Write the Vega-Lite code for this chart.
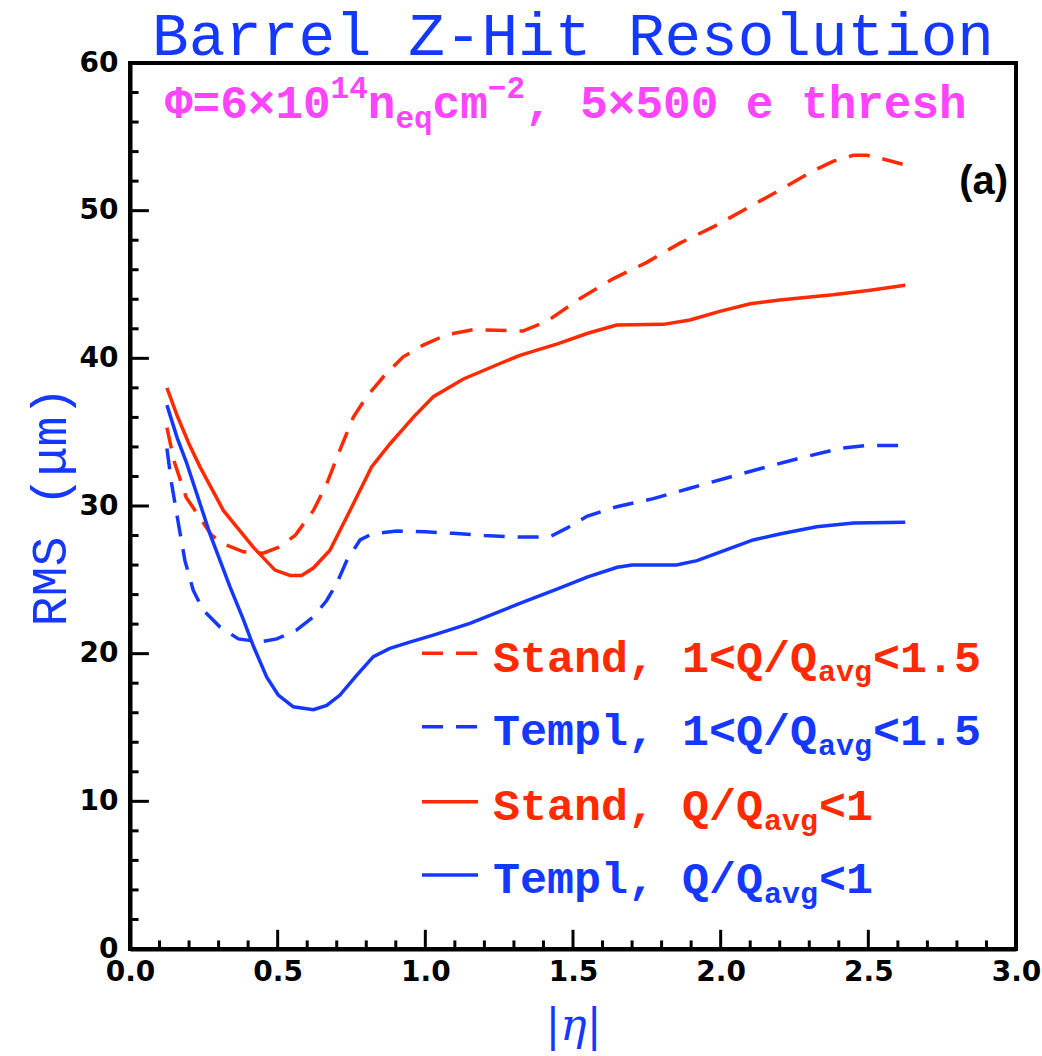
{
  "$schema": "https://vega.github.io/schema/vega-lite/v6.json",
  "width": 886,
  "height": 886,
  "autosize": "none",
  "padding": {"left": 130, "top": 63, "right": 26, "bottom": 107},
  "background": "white",
  "config": {
    "view": {"stroke": "black", "strokeWidth": 4},
    "axis": {"grid": false, "ticks": false, "domainColor": "black", "domainWidth": 4, "labelFont": "DejaVu Sans", "labelFontWeight": "bold", "labelFontSize": 28, "labelColor": "black", "labelFlush": false, "labelOverlap": false, "titleColor": "#1438ff", "titleFontWeight": "normal"}
  },
  "layer": [
    {
      "data": {"values": [
        {"s": "Stand 1-1.5", "eta": 0.125, "rms": 35.3},
        {"s": "Stand 1-1.5", "eta": 0.15, "rms": 33.0},
        {"s": "Stand 1-1.5", "eta": 0.19, "rms": 30.6},
        {"s": "Stand 1-1.5", "eta": 0.237, "rms": 29.2},
        {"s": "Stand 1-1.5", "eta": 0.277, "rms": 28.0},
        {"s": "Stand 1-1.5", "eta": 0.327, "rms": 27.35},
        {"s": "Stand 1-1.5", "eta": 0.384, "rms": 26.9},
        {"s": "Stand 1-1.5", "eta": 0.451, "rms": 26.8},
        {"s": "Stand 1-1.5", "eta": 0.502, "rms": 27.2},
        {"s": "Stand 1-1.5", "eta": 0.559, "rms": 28.0},
        {"s": "Stand 1-1.5", "eta": 0.621, "rms": 29.7},
        {"s": "Stand 1-1.5", "eta": 0.666, "rms": 31.5},
        {"s": "Stand 1-1.5", "eta": 0.711, "rms": 33.8},
        {"s": "Stand 1-1.5", "eta": 0.756, "rms": 36.0},
        {"s": "Stand 1-1.5", "eta": 0.801, "rms": 37.4},
        {"s": "Stand 1-1.5", "eta": 0.858, "rms": 38.75},
        {"s": "Stand 1-1.5", "eta": 0.925, "rms": 40.1},
        {"s": "Stand 1-1.5", "eta": 0.993, "rms": 40.9},
        {"s": "Stand 1-1.5", "eta": 1.072, "rms": 41.6},
        {"s": "Stand 1-1.5", "eta": 1.163, "rms": 41.95},
        {"s": "Stand 1-1.5", "eta": 1.24, "rms": 41.9},
        {"s": "Stand 1-1.5", "eta": 1.33, "rms": 41.85},
        {"s": "Stand 1-1.5", "eta": 1.411, "rms": 42.5},
        {"s": "Stand 1-1.5", "eta": 1.524, "rms": 44.05},
        {"s": "Stand 1-1.5", "eta": 1.637, "rms": 45.4},
        {"s": "Stand 1-1.5", "eta": 1.75, "rms": 46.5},
        {"s": "Stand 1-1.5", "eta": 1.862, "rms": 47.8},
        {"s": "Stand 1-1.5", "eta": 1.975, "rms": 48.9},
        {"s": "Stand 1-1.5", "eta": 2.088, "rms": 50.15},
        {"s": "Stand 1-1.5", "eta": 2.201, "rms": 51.4},
        {"s": "Stand 1-1.5", "eta": 2.314, "rms": 52.7},
        {"s": "Stand 1-1.5", "eta": 2.382, "rms": 53.35},
        {"s": "Stand 1-1.5", "eta": 2.449, "rms": 53.75},
        {"s": "Stand 1-1.5", "eta": 2.495, "rms": 53.75},
        {"s": "Stand 1-1.5", "eta": 2.55, "rms": 53.5},
        {"s": "Stand 1-1.5", "eta": 2.625, "rms": 53.1},
        {"s": "Templ 1-1.5", "eta": 0.125, "rms": 33.9},
        {"s": "Templ 1-1.5", "eta": 0.141, "rms": 31.5},
        {"s": "Templ 1-1.5", "eta": 0.164, "rms": 28.8},
        {"s": "Templ 1-1.5", "eta": 0.186, "rms": 26.3},
        {"s": "Templ 1-1.5", "eta": 0.214, "rms": 24.3},
        {"s": "Templ 1-1.5", "eta": 0.248, "rms": 22.95},
        {"s": "Templ 1-1.5", "eta": 0.305, "rms": 21.8},
        {"s": "Templ 1-1.5", "eta": 0.367, "rms": 21.0},
        {"s": "Templ 1-1.5", "eta": 0.44, "rms": 20.8},
        {"s": "Templ 1-1.5", "eta": 0.497, "rms": 21.0},
        {"s": "Templ 1-1.5", "eta": 0.564, "rms": 21.6},
        {"s": "Templ 1-1.5", "eta": 0.621, "rms": 22.5},
        {"s": "Templ 1-1.5", "eta": 0.666, "rms": 23.6},
        {"s": "Templ 1-1.5", "eta": 0.7, "rms": 24.75},
        {"s": "Templ 1-1.5", "eta": 0.734, "rms": 26.3},
        {"s": "Templ 1-1.5", "eta": 0.779, "rms": 27.7},
        {"s": "Templ 1-1.5", "eta": 0.818, "rms": 28.1},
        {"s": "Templ 1-1.5", "eta": 0.903, "rms": 28.3},
        {"s": "Templ 1-1.5", "eta": 1.0, "rms": 28.25},
        {"s": "Templ 1-1.5", "eta": 1.095, "rms": 28.15},
        {"s": "Templ 1-1.5", "eta": 1.2, "rms": 28.0},
        {"s": "Templ 1-1.5", "eta": 1.32, "rms": 27.9},
        {"s": "Templ 1-1.5", "eta": 1.42, "rms": 27.9},
        {"s": "Templ 1-1.5", "eta": 1.479, "rms": 28.5},
        {"s": "Templ 1-1.5", "eta": 1.547, "rms": 29.3},
        {"s": "Templ 1-1.5", "eta": 1.648, "rms": 29.95},
        {"s": "Templ 1-1.5", "eta": 1.772, "rms": 30.5},
        {"s": "Templ 1-1.5", "eta": 1.896, "rms": 31.2},
        {"s": "Templ 1-1.5", "eta": 2.02, "rms": 31.9},
        {"s": "Templ 1-1.5", "eta": 2.156, "rms": 32.65},
        {"s": "Templ 1-1.5", "eta": 2.28, "rms": 33.3},
        {"s": "Templ 1-1.5", "eta": 2.404, "rms": 33.9},
        {"s": "Templ 1-1.5", "eta": 2.495, "rms": 34.1},
        {"s": "Templ 1-1.5", "eta": 2.625, "rms": 34.1}
      ]},
      "mark": {"type": "line", "strokeWidth": 3.5, "strokeDash": [21, 13]},
      "encoding": {
        "x": {"field": "eta", "type": "quantitative", "scale": {"domain": [0, 3], "nice": false, "zero": false},
          "axis": {"title": "|η|", "titleFont": "DejaVu Serif", "titleFontStyle": "italic", "titleFontSize": 44, "titlePadding": 18,
            "values": [0, 0.5, 1, 1.5, 2, 2.5, 3], "format": ".1f", "labelPadding": 9}},
        "y": {"field": "rms", "type": "quantitative", "scale": {"domain": [0, 60], "nice": false, "zero": false},
          "axis": {"title": "RMS (μm)", "titleFont": "Liberation Mono", "titleFontSize": 50, "titlePadding": 4,
            "values": [0, 10, 20, 30, 40, 50, 60], "format": "d", "labelPadding": 12}},
        "color": {"field": "s", "type": "nominal", "scale": {"domain": ["Stand 1-1.5", "Stand <1", "Templ 1-1.5", "Templ <1"], "range": ["#ff2a00", "#ff2a00", "#1438ff", "#1438ff"]}, "legend": null}
      }
    },
    {
      "data": {"values": [
        {"s": "Stand <1", "eta": 0.125, "rms": 38.0},
        {"s": "Stand <1", "eta": 0.16, "rms": 36.1},
        {"s": "Stand <1", "eta": 0.2, "rms": 34.2},
        {"s": "Stand <1", "eta": 0.237, "rms": 32.65},
        {"s": "Stand <1", "eta": 0.316, "rms": 29.7},
        {"s": "Stand <1", "eta": 0.418, "rms": 27.2},
        {"s": "Stand <1", "eta": 0.491, "rms": 25.66},
        {"s": "Stand <1", "eta": 0.542, "rms": 25.3},
        {"s": "Stand <1", "eta": 0.581, "rms": 25.3},
        {"s": "Stand <1", "eta": 0.621, "rms": 25.8},
        {"s": "Stand <1", "eta": 0.677, "rms": 27.0},
        {"s": "Stand <1", "eta": 0.745, "rms": 29.7},
        {"s": "Stand <1", "eta": 0.818, "rms": 32.65},
        {"s": "Stand <1", "eta": 0.88, "rms": 34.2},
        {"s": "Stand <1", "eta": 0.959, "rms": 36.0},
        {"s": "Stand <1", "eta": 1.027, "rms": 37.4},
        {"s": "Stand <1", "eta": 1.129, "rms": 38.6},
        {"s": "Stand <1", "eta": 1.253, "rms": 39.65},
        {"s": "Stand <1", "eta": 1.32, "rms": 40.2},
        {"s": "Stand <1", "eta": 1.45, "rms": 41.0},
        {"s": "Stand <1", "eta": 1.55, "rms": 41.7},
        {"s": "Stand <1", "eta": 1.648, "rms": 42.25},
        {"s": "Stand <1", "eta": 1.806, "rms": 42.3},
        {"s": "Stand <1", "eta": 1.896, "rms": 42.6},
        {"s": "Stand <1", "eta": 2.0, "rms": 43.2},
        {"s": "Stand <1", "eta": 2.1, "rms": 43.7},
        {"s": "Stand <1", "eta": 2.2, "rms": 43.95},
        {"s": "Stand <1", "eta": 2.38, "rms": 44.3},
        {"s": "Stand <1", "eta": 2.5, "rms": 44.6},
        {"s": "Stand <1", "eta": 2.625, "rms": 44.95},
        {"s": "Templ <1", "eta": 0.125, "rms": 36.83},
        {"s": "Templ <1", "eta": 0.16, "rms": 34.6},
        {"s": "Templ <1", "eta": 0.192, "rms": 32.9},
        {"s": "Templ <1", "eta": 0.271, "rms": 28.1},
        {"s": "Templ <1", "eta": 0.339, "rms": 24.5},
        {"s": "Templ <1", "eta": 0.384, "rms": 22.3},
        {"s": "Templ <1", "eta": 0.418, "rms": 20.5},
        {"s": "Templ <1", "eta": 0.463, "rms": 18.4},
        {"s": "Templ <1", "eta": 0.502, "rms": 17.2},
        {"s": "Templ <1", "eta": 0.553, "rms": 16.4},
        {"s": "Templ <1", "eta": 0.621, "rms": 16.2},
        {"s": "Templ <1", "eta": 0.666, "rms": 16.5},
        {"s": "Templ <1", "eta": 0.711, "rms": 17.2},
        {"s": "Templ <1", "eta": 0.768, "rms": 18.55},
        {"s": "Templ <1", "eta": 0.824, "rms": 19.8},
        {"s": "Templ <1", "eta": 0.88, "rms": 20.36},
        {"s": "Templ <1", "eta": 0.95, "rms": 20.8},
        {"s": "Templ <1", "eta": 1.027, "rms": 21.26},
        {"s": "Templ <1", "eta": 1.151, "rms": 22.05},
        {"s": "Templ <1", "eta": 1.32, "rms": 23.4},
        {"s": "Templ <1", "eta": 1.45, "rms": 24.4},
        {"s": "Templ <1", "eta": 1.55, "rms": 25.2},
        {"s": "Templ <1", "eta": 1.65, "rms": 25.85},
        {"s": "Templ <1", "eta": 1.7, "rms": 26.0},
        {"s": "Templ <1", "eta": 1.85, "rms": 26.0},
        {"s": "Templ <1", "eta": 1.92, "rms": 26.3},
        {"s": "Templ <1", "eta": 2.0, "rms": 26.9},
        {"s": "Templ <1", "eta": 2.11, "rms": 27.7},
        {"s": "Templ <1", "eta": 2.2, "rms": 28.1},
        {"s": "Templ <1", "eta": 2.325, "rms": 28.6},
        {"s": "Templ <1", "eta": 2.45, "rms": 28.85},
        {"s": "Templ <1", "eta": 2.625, "rms": 28.9}
      ]},
      "mark": {"type": "line", "strokeWidth": 3.5},
      "encoding": {
        "x": {"field": "eta", "type": "quantitative"},
        "y": {"field": "rms", "type": "quantitative"},
        "color": {"field": "s", "type": "nominal", "legend": null}
      }
    },
    {"data": {"values": [{"v": 0.5}, {"v": 1}, {"v": 1.5}, {"v": 2}, {"v": 2.5}]},
     "mark": {"type": "rule", "color": "black", "strokeWidth": 3},
     "encoding": {"x": {"field": "v", "type": "quantitative"}, "y": {"datum": 0.05, "type": "quantitative"}, "y2": {"datum": 1.3}}},
    {"data": {"values": [{"v": 0.1}, {"v": 0.2}, {"v": 0.3}, {"v": 0.4}, {"v": 0.6}, {"v": 0.7}, {"v": 0.8}, {"v": 0.9}, {"v": 1.1}, {"v": 1.2}, {"v": 1.3}, {"v": 1.4}, {"v": 1.6}, {"v": 1.7}, {"v": 1.8}, {"v": 1.9}, {"v": 2.1}, {"v": 2.2}, {"v": 2.3}, {"v": 2.4}, {"v": 2.6}, {"v": 2.7}, {"v": 2.8}, {"v": 2.9}]},
     "mark": {"type": "rule", "color": "black", "strokeWidth": 3},
     "encoding": {"x": {"field": "v", "type": "quantitative"}, "y": {"datum": 0.05, "type": "quantitative"}, "y2": {"datum": 0.58}}},
    {"data": {"values": [{"v": 10}, {"v": 20}, {"v": 30}, {"v": 40}, {"v": 50}]},
     "mark": {"type": "rule", "color": "black", "strokeWidth": 3},
     "encoding": {"y": {"field": "v", "type": "quantitative"}, "x": {"datum": 0.002, "type": "quantitative"}, "x2": {"datum": 0.064}}},
    {"data": {"values": [{"v": 2}, {"v": 4}, {"v": 6}, {"v": 8}, {"v": 12}, {"v": 14}, {"v": 16}, {"v": 18}, {"v": 22}, {"v": 24}, {"v": 26}, {"v": 28}, {"v": 32}, {"v": 34}, {"v": 36}, {"v": 38}, {"v": 42}, {"v": 44}, {"v": 46}, {"v": 48}, {"v": 52}, {"v": 54}, {"v": 56}, {"v": 58}]},
     "mark": {"type": "rule", "color": "black", "strokeWidth": 3},
     "encoding": {"y": {"field": "v", "type": "quantitative"}, "x": {"datum": 0.002, "type": "quantitative"}, "x2": {"datum": 0.029}}},
    {"data": {"values": [{"t": "Barrel Z-Hit Resolution"}]}, "mark": {"type": "text", "align": "center", "baseline": "alphabetic", "font": "Liberation Mono", "fontWeight": "normal", "fontSize": 61, "color": "#1438ff"},
     "encoding": {"text": {"field": "t"}, "x": {"datum": 1.5, "type": "quantitative"}, "y": {"datum": 60.54, "type": "quantitative"}}},
    {"data": {"values": [{}]}, "mark": {"type": "rule", "color": "#ff2a00", "strokeWidth": 3.5, "strokeDash": [21, 13]},
     "encoding": {"x": {"datum": 0.9887, "type": "quantitative"}, "x2": {"datum": 1.1783}, "y": {"datum": 20.02, "type": "quantitative"}}},
    {"data": {"values": [{}]}, "mark": {"type": "rule", "color": "#1438ff", "strokeWidth": 3.5, "strokeDash": [21, 13]},
     "encoding": {"x": {"datum": 0.9887, "type": "quantitative"}, "x2": {"datum": 1.1783}, "y": {"datum": 15.05, "type": "quantitative"}}},
    {"data": {"values": [{}]}, "mark": {"type": "rule", "color": "#ff2a00", "strokeWidth": 3.5},
     "encoding": {"x": {"datum": 0.9887, "type": "quantitative"}, "x2": {"datum": 1.1783}, "y": {"datum": 9.975, "type": "quantitative"}}},
    {"data": {"values": [{}]}, "mark": {"type": "rule", "color": "#1438ff", "strokeWidth": 3.5},
     "encoding": {"x": {"datum": 0.9887, "type": "quantitative"}, "x2": {"datum": 1.1783}, "y": {"datum": 5.01, "type": "quantitative"}}},
    {"data": {"values": [{"t": "Stand, 1<Q/Q"}]}, "mark": {"type": "text", "align": "left", "baseline": "alphabetic", "font": "Liberation Mono", "fontWeight": "bold", "fontSize": 45, "color": "#ff2a00"},
     "encoding": {"text": {"field": "t"}, "x": {"datum": 1.2291, "type": "quantitative"}, "y": {"datum": 18.77, "type": "quantitative"}}},
    {"data": {"values": [{"t": "avg"}]}, "mark": {"type": "text", "align": "left", "baseline": "alphabetic", "font": "Liberation Mono", "fontWeight": "bold", "fontSize": 30, "color": "#ff2a00"},
     "encoding": {"text": {"field": "t"}, "x": {"datum": 2.3296, "type": "quantitative"}, "y": {"datum": 18.13, "type": "quantitative"}}},
    {"data": {"values": [{"t": "<1.5"}]}, "mark": {"type": "text", "align": "left", "baseline": "alphabetic", "font": "Liberation Mono", "fontWeight": "bold", "fontSize": 45, "color": "#ff2a00"},
     "encoding": {"text": {"field": "t"}, "x": {"datum": 2.5158, "type": "quantitative"}, "y": {"datum": 18.77, "type": "quantitative"}}},
    {"data": {"values": [{"t": "Templ, 1<Q/Q"}]}, "mark": {"type": "text", "align": "left", "baseline": "alphabetic", "font": "Liberation Mono", "fontWeight": "bold", "fontSize": 45, "color": "#1438ff"},
     "encoding": {"text": {"field": "t"}, "x": {"datum": 1.2291, "type": "quantitative"}, "y": {"datum": 13.8, "type": "quantitative"}}},
    {"data": {"values": [{"t": "avg"}]}, "mark": {"type": "text", "align": "left", "baseline": "alphabetic", "font": "Liberation Mono", "fontWeight": "bold", "fontSize": 30, "color": "#1438ff"},
     "encoding": {"text": {"field": "t"}, "x": {"datum": 2.3296, "type": "quantitative"}, "y": {"datum": 13.16, "type": "quantitative"}}},
    {"data": {"values": [{"t": "<1.5"}]}, "mark": {"type": "text", "align": "left", "baseline": "alphabetic", "font": "Liberation Mono", "fontWeight": "bold", "fontSize": 45, "color": "#1438ff"},
     "encoding": {"text": {"field": "t"}, "x": {"datum": 2.5158, "type": "quantitative"}, "y": {"datum": 13.8, "type": "quantitative"}}},
    {"data": {"values": [{"t": "Stand, Q/Q"}]}, "mark": {"type": "text", "align": "left", "baseline": "alphabetic", "font": "Liberation Mono", "fontWeight": "bold", "fontSize": 45, "color": "#ff2a00"},
     "encoding": {"text": {"field": "t"}, "x": {"datum": 1.2291, "type": "quantitative"}, "y": {"datum": 8.72, "type": "quantitative"}}},
    {"data": {"values": [{"t": "avg"}]}, "mark": {"type": "text", "align": "left", "baseline": "alphabetic", "font": "Liberation Mono", "fontWeight": "bold", "fontSize": 30, "color": "#ff2a00"},
     "encoding": {"text": {"field": "t"}, "x": {"datum": 2.1468, "type": "quantitative"}, "y": {"datum": 8.08, "type": "quantitative"}}},
    {"data": {"values": [{"t": "<1"}]}, "mark": {"type": "text", "align": "left", "baseline": "alphabetic", "font": "Liberation Mono", "fontWeight": "bold", "fontSize": 45, "color": "#ff2a00"},
     "encoding": {"text": {"field": "t"}, "x": {"datum": 2.333, "type": "quantitative"}, "y": {"datum": 8.72, "type": "quantitative"}}},
    {"data": {"values": [{"t": "Templ, Q/Q"}]}, "mark": {"type": "text", "align": "left", "baseline": "alphabetic", "font": "Liberation Mono", "fontWeight": "bold", "fontSize": 45, "color": "#1438ff"},
     "encoding": {"text": {"field": "t"}, "x": {"datum": 1.2291, "type": "quantitative"}, "y": {"datum": 3.76, "type": "quantitative"}}},
    {"data": {"values": [{"t": "avg"}]}, "mark": {"type": "text", "align": "left", "baseline": "alphabetic", "font": "Liberation Mono", "fontWeight": "bold", "fontSize": 30, "color": "#1438ff"},
     "encoding": {"text": {"field": "t"}, "x": {"datum": 2.1468, "type": "quantitative"}, "y": {"datum": 3.12, "type": "quantitative"}}},
    {"data": {"values": [{"t": "<1"}]}, "mark": {"type": "text", "align": "left", "baseline": "alphabetic", "font": "Liberation Mono", "fontWeight": "bold", "fontSize": 45, "color": "#1438ff"},
     "encoding": {"text": {"field": "t"}, "x": {"datum": 2.333, "type": "quantitative"}, "y": {"datum": 3.76, "type": "quantitative"}}},
    {"data": {"values": [{"t": "Φ=6×10"}]}, "mark": {"type": "text", "align": "left", "baseline": "alphabetic", "font": "Liberation Mono", "fontWeight": "bold", "fontSize": 46, "color": "#ff44ff"},
     "encoding": {"text": {"field": "t"}, "x": {"datum": 0.1185, "type": "quantitative"}, "y": {"datum": 56.25, "type": "quantitative"}}},
    {"data": {"values": [{"t": "14"}]}, "mark": {"type": "text", "align": "left", "baseline": "alphabetic", "font": "Liberation Mono", "fontWeight": "bold", "fontSize": 31, "color": "#ff44ff"},
     "encoding": {"text": {"field": "t"}, "x": {"datum": 0.6793, "type": "quantitative"}, "y": {"datum": 57.6, "type": "quantitative"}}},
    {"data": {"values": [{"t": "n"}]}, "mark": {"type": "text", "align": "left", "baseline": "alphabetic", "font": "Liberation Mono", "fontWeight": "bold", "fontSize": 46, "color": "#ff44ff"},
     "encoding": {"text": {"field": "t"}, "x": {"datum": 0.8052, "type": "quantitative"}, "y": {"datum": 56.25, "type": "quantitative"}}},
    {"data": {"values": [{"t": "eq"}]}, "mark": {"type": "text", "align": "left", "baseline": "alphabetic", "font": "Liberation Mono", "fontWeight": "bold", "fontSize": 31, "color": "#ff44ff"},
     "encoding": {"text": {"field": "t"}, "x": {"datum": 0.8987, "type": "quantitative"}, "y": {"datum": 55.6, "type": "quantitative"}}},
    {"data": {"values": [{"t": "cm"}]}, "mark": {"type": "text", "align": "left", "baseline": "alphabetic", "font": "Liberation Mono", "fontWeight": "bold", "fontSize": 46, "color": "#ff44ff"},
     "encoding": {"text": {"field": "t"}, "x": {"datum": 1.0246, "type": "quantitative"}, "y": {"datum": 56.25, "type": "quantitative"}}},
    {"data": {"values": [{"t": "−2"}]}, "mark": {"type": "text", "align": "left", "baseline": "alphabetic", "font": "Liberation Mono", "fontWeight": "bold", "fontSize": 31, "color": "#ff44ff"},
     "encoding": {"text": {"field": "t"}, "x": {"datum": 1.2115, "type": "quantitative"}, "y": {"datum": 57.6, "type": "quantitative"}}},
    {"data": {"values": [{"t": ", 5×500 e thresh"}]}, "mark": {"type": "text", "align": "left", "baseline": "alphabetic", "font": "Liberation Mono", "fontWeight": "bold", "fontSize": 46, "color": "#ff44ff"},
     "encoding": {"text": {"field": "t"}, "x": {"datum": 1.3375, "type": "quantitative"}, "y": {"datum": 56.25, "type": "quantitative"}}},
    {"data": {"values": [{"t": "(a)"}]}, "mark": {"type": "text", "align": "right", "baseline": "alphabetic", "font": "Liberation Sans", "fontWeight": "bold", "fontSize": 40, "color": "black"},
     "encoding": {"text": {"field": "t"}, "x": {"datum": 2.973, "type": "quantitative"}, "y": {"datum": 51.13, "type": "quantitative"}}}
  ]
}
